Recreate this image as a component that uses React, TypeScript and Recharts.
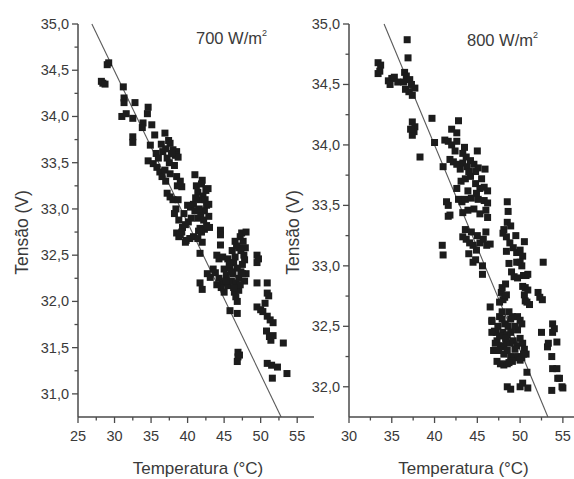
import React from 'react';
import { ScatterChart, Scatter, XAxis, YAxis, ReferenceLine } from 'recharts';

// ---------- Data: 700 W/m² ----------
const leftTemp = [
  29.0, 29.2, 28.2, 28.4, 28.7, 31.2, 31.3, 31.3, 32.8, 31.0,
  31.6, 32.5, 34.6, 34.5, 33.9, 33.8, 35.1, 32.5, 32.5, 35.5,
  34.9, 36.9, 37.4, 37.6, 38.0, 38.5, 38.3, 34.6, 35.3, 35.8,
  36.2, 36.5, 36.9, 37.2, 37.5, 38.2, 38.7, 37.2, 37.6, 38.0,
  38.5, 38.6, 39.0, 38.7, 38.4, 38.2, 39.2, 41.0, 40.0, 40.4,
  40.8, 42.0, 41.4, 41.7, 42.1, 42.5, 42.8, 41.0, 41.4, 41.8,
  42.3, 42.6, 38.8, 39.3, 39.7, 40.1, 41.7, 42.3, 43.0, 41.9,
  44.5, 38.5, 38.8, 39.2, 39.8, 40.3, 40.8, 39.7, 41.4, 42.0,
  41.5, 42.6, 41.7, 44.5, 44.5, 44.0, 44.3, 44.8, 45.5, 42.7,
  43.1, 41.7, 42.0, 43.8, 44.3, 44.8, 44.6, 45.3, 45.5, 46.0,
  46.4, 46.6, 46.8, 47.0, 47.3, 47.5, 47.7, 47.9, 47.6, 47.2,
  47.4, 48.0, 46.1, 46.5, 46.3, 46.8, 45.0, 45.8, 47.0, 47.8,
  45.8, 46.8, 46.9, 46.9, 46.8, 47.1, 49.5, 49.5, 49.7, 49.5,
  50.9, 50.9, 51.1, 49.5, 50.0, 50.3, 50.6, 50.9, 51.3, 51.7,
  50.8, 51.2, 51.4, 51.7, 53.1, 50.9, 51.5, 52.3, 51.6, 53.6,
  46.2, 45.0, 43.5, 44.0, 48.0, 46.5, 47.0, 37.0, 36.6, 35.7,
  41.2, 41.9, 42.4, 42.9, 42.2, 41.6, 42.9, 41.1, 45.7, 46.0,
  46.6, 47.2, 45.2, 46.3, 47.5, 47.8, 46.7, 47.3, 36.4, 37.0,
  37.8, 36.0, 37.6, 39.5, 40.5, 39.0,
];
const leftVolt = [
  34.56, 34.58, 34.38, 34.36, 34.35, 34.32, 34.20, 34.15, 34.15, 34.00,
  34.03, 33.98, 34.10, 34.03, 33.93, 33.88, 33.91, 33.78, 33.72, 33.80,
  33.69, 33.82, 33.74, 33.71, 33.64, 33.62, 33.58, 33.52, 33.49, 33.45,
  33.40, 33.35, 33.42, 33.55, 33.50, 33.47, 33.56, 33.17, 33.13, 33.10,
  33.35, 33.25, 33.30, 33.10, 33.00, 32.95, 33.24, 33.37, 33.04, 33.02,
  33.05, 33.31, 33.18, 33.10, 33.14, 33.20, 33.22, 32.98, 32.90, 32.93,
  32.98, 33.04, 32.88, 32.80, 32.83, 32.86, 32.79, 32.78, 32.80, 32.75,
  32.77, 32.74, 32.70, 32.75, 32.66, 32.68, 32.70, 32.64, 32.68, 32.64,
  32.76, 32.82, 32.52, 32.72, 32.61, 32.50, 32.46, 32.48, 32.46, 32.30,
  32.26, 32.20, 32.13, 32.31, 32.25, 32.20, 32.15, 32.28, 32.17, 32.22,
  32.10, 32.05, 32.00, 32.12, 32.32, 32.40, 32.50, 32.58, 32.65, 32.70,
  32.74, 32.75, 32.55, 32.48, 32.42, 32.36, 32.35, 32.36, 32.25, 32.22,
  31.90, 31.87, 31.45, 31.40, 31.35, 31.42, 32.50, 32.42, 32.46, 32.20,
  32.20, 32.09, 32.06, 31.94, 31.91, 31.89, 31.98, 31.84, 31.80, 31.77,
  31.68, 31.62, 31.58, 31.63, 31.55, 31.33, 31.31, 31.29, 31.17, 31.22,
  32.30, 32.10, 32.35, 32.18, 32.30, 32.65, 32.58, 33.30, 33.62, 33.60,
  33.25, 33.27, 33.10, 33.05, 32.88, 33.00, 32.92, 33.12, 32.40, 32.32,
  32.20, 32.18, 32.22, 32.15, 32.30, 32.45, 32.60, 32.55, 33.70, 33.65,
  33.60, 33.55, 33.38, 32.95, 32.90, 32.72,
];

// ---------- Data: 800 W/m² ----------
const rightTemp = [
  36.8, 36.9, 33.4, 33.7, 33.4, 33.6, 34.6, 35.0, 35.3, 35.7,
  34.8, 36.5, 36.7, 36.4, 37.1, 37.3, 37.7, 36.6, 37.0, 37.4,
  37.4, 37.7, 37.6, 37.4, 37.2, 38.3, 39.7, 40.0, 41.0, 41.4,
  41.6, 41.6, 41.8, 41.2, 41.6, 42.0, 42.6, 42.0, 42.8, 42.6,
  41.8, 42.2, 42.6, 43.0, 43.3, 43.8, 43.3, 43.7, 44.2, 44.6,
  44.8, 45.1, 45.9, 43.1, 43.6, 44.2, 44.8, 45.3, 45.8, 46.2,
  42.6, 42.8, 43.2, 43.6, 44.3, 45.1, 45.8, 46.2, 43.3, 43.9,
  44.6, 45.3, 46.0, 48.5, 48.6, 48.5, 48.9, 48.1, 40.9, 41.0,
  43.3, 43.7, 44.1, 44.5, 44.9, 45.3, 45.7, 46.1, 46.5, 44.5,
  45.6, 45.6, 48.0, 48.4, 48.8, 49.2, 49.6, 50.0, 50.3, 49.6,
  50.0, 49.0, 49.3, 49.7, 50.4, 50.7, 50.9, 50.3, 50.6, 50.5,
  50.9, 47.9, 47.8, 48.2, 48.0, 48.4, 50.6, 51.1, 50.8, 52.1,
  52.3, 52.6, 52.7, 46.5, 46.7, 47.0, 47.2, 47.4, 47.6, 47.9,
  48.2, 48.6, 48.0, 48.5, 48.9, 49.1, 49.7, 50.0, 50.2, 49.7,
  47.3, 47.7, 48.1, 48.4, 48.8, 49.2, 49.6, 50.3, 50.5, 50.7,
  46.9, 47.5, 48.1, 48.5, 48.9, 49.3, 49.7, 50.2, 47.3, 47.7,
  48.1, 48.5, 49.1, 50.0, 50.4, 50.8, 48.5, 48.9, 50.0, 50.3,
  50.9, 52.5, 53.8, 54.0, 53.8, 53.2, 53.3, 54.3, 53.7, 53.8,
  54.3, 54.4, 53.7, 54.9, 46.2, 44.0, 46.7, 46.7, 54.6, 55.0,
  43.5, 44.0, 45.5, 44.9, 43.9, 45.0, 42.4, 43.6, 44.3, 45.0,
  46.0, 44.8, 48.7, 49.5, 50.5, 50.2, 48.4, 47.6, 48.3, 48.9,
  49.4, 47.9, 48.7, 49.4, 50.0, 47.1, 48.7, 48.3, 47.6,
];
const rightVolt = [
  34.87, 34.72, 34.68, 34.66, 34.59, 34.61, 34.53, 34.55, 34.56, 34.52,
  34.50, 34.60, 34.57, 34.52, 34.54, 34.50, 34.47, 34.46, 34.44, 34.41,
  34.19, 34.15, 34.11, 34.08, 34.13, 33.90, 34.22, 34.02, 33.82, 33.53,
  33.50, 33.41, 33.42, 34.04, 34.03, 34.00, 34.03, 34.13, 34.20, 34.10,
  33.88, 33.86, 33.84, 33.80, 33.85, 33.82, 33.93, 33.90, 33.87, 33.84,
  33.78, 33.81, 33.80, 33.70, 33.72, 33.74, 33.68, 33.64, 33.65, 33.62,
  33.64, 33.55, 33.53, 33.55, 33.56, 33.55, 33.54, 33.52, 33.44, 33.46,
  33.47, 33.43, 33.46, 33.53, 33.45, 33.36, 33.33, 33.30, 33.17, 33.09,
  33.24, 33.22, 33.19, 33.17, 33.13, 33.19, 33.22, 33.17, 33.18, 33.03,
  33.00, 32.93, 33.27, 33.24, 33.19, 33.15, 33.11, 33.13, 33.08, 33.03,
  33.03, 32.95, 32.91, 32.90, 32.92, 32.92, 32.93, 32.83, 32.82, 32.76,
  32.80, 32.82, 32.78, 32.74, 32.72, 32.76, 32.71, 32.68, 32.70, 32.78,
  32.74, 32.72, 33.03, 32.66, 32.55, 32.46, 32.45, 32.50, 32.58, 32.56,
  32.52, 32.50, 32.45, 32.43, 32.56, 32.58, 32.58, 32.55, 32.52, 32.47,
  32.38, 32.34, 32.33, 32.38, 32.36, 32.38, 32.34, 32.36, 32.31, 32.27,
  32.30, 32.30, 32.27, 32.30, 32.25, 32.24, 32.25, 32.24, 32.21, 32.19,
  32.18, 32.19, 32.21, 32.22, 32.27, 32.12, 32.00, 31.98, 32.00, 32.03,
  31.99, 32.45, 32.52, 32.48, 32.45, 32.33, 32.36, 32.37, 32.25, 32.15,
  32.15, 32.07, 31.97, 32.00, 33.40, 33.10, 32.54, 32.45, 32.07, 31.99,
  33.98, 33.78, 33.72, 33.60, 33.62, 33.95, 33.95, 33.30, 33.28, 33.25,
  33.28, 33.05, 33.02, 33.25, 33.20, 33.00, 33.12, 32.42, 32.40, 32.45,
  32.50, 32.62, 32.62, 32.31, 32.40, 32.36, 32.20, 32.85, 32.70,
];

// ---------- Fitted lines (endpoints) ----------
const leftFit = [{ x: 26.9, y: 35.0 }, { x: 52.8, y: 30.75 }];
const rightFit = [{ x: 34.1, y: 35.0 }, { x: 53.25, y: 31.75 }];

// ---------- Axes ----------
const leftXDomain = [25, 57.3];
const leftYDomain = [30.75, 35.0];
const rightXDomain = [30, 56.3];
const rightYDomain = [31.75, 35.0];
const leftXTicks = [25, 27.5, 30, 32.5, 35, 37.5, 40, 42.5, 45, 47.5, 50, 52.5, 55];
const rightXTicks = [30, 32.5, 35, 37.5, 40, 42.5, 45, 47.5, 50, 52.5, 55];
const leftYTicks = [31.0, 31.25, 31.5, 31.75, 32.0, 32.25, 32.5, 32.75, 33.0, 33.25, 33.5, 33.75, 34.0, 34.25, 34.5, 34.75, 35.0];
const rightYTicks = [32.0, 32.25, 32.5, 32.75, 33.0, 33.25, 33.5, 33.75, 34.0, 34.25, 34.5, 34.75, 35.0];

const xTitle = 'Temperatura (°C)';
const yTitle = 'Tensão (V)';
const leftTitle = '700 W/m';
const rightTitle = '800 W/m';

const zip = (xs: number[], ys: number[]) => xs.map((x, i) => ({ x, y: ys[i] }));
const leftData = zip(leftTemp, leftVolt);
const rightData = zip(rightTemp, rightVolt);

const FONT = '"Liberation Sans", Arial, Helvetica, sans-serif';
const AXIS = '#4a4a4a';
const TXT = '#3a3a3a';
const MARK = '#1c1c1c';

const XTick = (props: any) => {
  const { x, y, payload } = props;
  const v = payload.value as number;
  const major = Math.abs(v - Math.round(v / 5) * 5) < 1e-6;
  return (
    <g>
      <line x1={x} x2={x} y1={y} y2={y + (major ? 6 : 3.5)} stroke={AXIS} strokeWidth={1.3} />
      {major && (
        <text x={x} y={y + 24} textAnchor="middle" fontSize={14.5} fontFamily={FONT} fill={TXT}>
          {v}
        </text>
      )}
    </g>
  );
};

const YTick = (props: any) => {
  const { x, y, payload } = props;
  const v = payload.value as number;
  const major = Math.abs(v * 2 - Math.round(v * 2)) < 1e-6;
  return (
    <g>
      <line x1={x} x2={x - (major ? 6 : 3.5)} y1={y} y2={y} stroke={AXIS} strokeWidth={1.3} />
      {major && (
        <text x={x - 9} y={y + 5} textAnchor="end" fontSize={14.5} fontFamily={FONT} fill={TXT}>
          {v.toFixed(1).replace('.', ',')}
        </text>
      )}
    </g>
  );
};

const Square = (props: any) => {
  const { cx, cy } = props;
  if (cx == null || cy == null) return null;
  return <rect x={cx - 3.5} y={cy - 3.5} width={7} height={7} fill={MARK} />;
};

const xLabel = (props: any) => {
  const vb = props.viewBox || { x: 0, y: 0, width: 0, height: 0 };
  return (
    <text
      x={vb.x + vb.width / 2 + 2}
      y={vb.y + 57}
      textAnchor="middle"
      fontSize={17}
      fontFamily={FONT}
      fill={TXT}
    >
      {xTitle}
    </text>
  );
};

const yLabel = (props: any) => {
  const vb = props.viewBox || { x: 0, y: 0, width: 0, height: 0 };
  const cx = vb.x + vb.width - 50;
  const cy = vb.y + vb.height / 2 + 12;
  return (
    <text
      x={cx}
      y={cy}
      transform={`rotate(-90, ${cx}, ${cy})`}
      textAnchor="middle"
      fontSize={17.5}
      fontFamily={FONT}
      fill={TXT}
    >
      {yTitle}
    </text>
  );
};

interface PanelProps {
  data: { x: number; y: number }[];
  fit: { x: number; y: number }[];
  xDomain: number[];
  yDomain: number[];
  xTicks: number[];
  yTicks: number[];
  width: number;
  yAxisWidth: number;
  marginRight: number;
}

const Panel = ({ data, fit, xDomain, yDomain, xTicks, yTicks, width, yAxisWidth, marginRight }: PanelProps) => (
  <ScatterChart width={width} height={479} margin={{ top: 24, right: marginRight, bottom: 0, left: 0 }}>
    <XAxis
      type="number"
      dataKey="x"
      domain={xDomain as any}
      ticks={xTicks}
      interval={0}
      height={62}
      tickSize={0}
      tickMargin={0}
      tickLine={false}
      tick={<XTick />}
      axisLine={{ stroke: AXIS, strokeWidth: 1.5 }}
      label={xLabel}
      allowDataOverflow
    />
    <YAxis
      type="number"
      dataKey="y"
      domain={yDomain as any}
      ticks={yTicks}
      interval={0}
      width={yAxisWidth}
      tickSize={0}
      tickMargin={0}
      tickLine={false}
      tick={<YTick />}
      axisLine={{ stroke: AXIS, strokeWidth: 1.5 }}
      label={yLabel}
      allowDataOverflow
    />
    <Scatter data={data} shape={<Square />} isAnimationActive={false} />
    <ReferenceLine segment={fit as any} stroke="#5a5a5a" strokeWidth={1.1} ifOverflow="visible" />
  </ScatterChart>
);

export default function App() {
  return (
    <div style={{ position: 'absolute', left: 0, top: 0, width: 574, height: 479, background: '#fff', overflow: 'hidden' }}>
      <div style={{ position: 'absolute', left: 0, top: 0 }}>
        <Panel
          data={leftData}
          fit={leftFit}
          xDomain={leftXDomain}
          yDomain={leftYDomain}
          xTicks={leftXTicks}
          yTicks={leftYTicks}
          width={320}
          yAxisWidth={78}
          marginRight={6}
        />
      </div>
      <div style={{ position: 'absolute', left: 270, top: 0 }}>
        <Panel
          data={rightData}
          fit={rightFit}
          xDomain={rightXDomain}
          yDomain={rightYDomain}
          xTicks={rightXTicks}
          yTicks={rightYTicks}
          width={304}
          yAxisWidth={79}
          marginRight={0}
        />
      </div>
      <svg width={574} height={479} style={{ position: 'absolute', left: 0, top: 0, pointerEvents: 'none' }}>
        <text x={196} y={44} fontSize={16.5} fontFamily={FONT} fill={TXT}>
          {leftTitle}
          <tspan fontSize={9} dy={-8}>2</tspan>
        </text>
        <text x={467} y={46} fontSize={16.5} fontFamily={FONT} fill={TXT}>
          {rightTitle}
          <tspan fontSize={9} dy={-8}>2</tspan>
        </text>
      </svg>
    </div>
  );
}
